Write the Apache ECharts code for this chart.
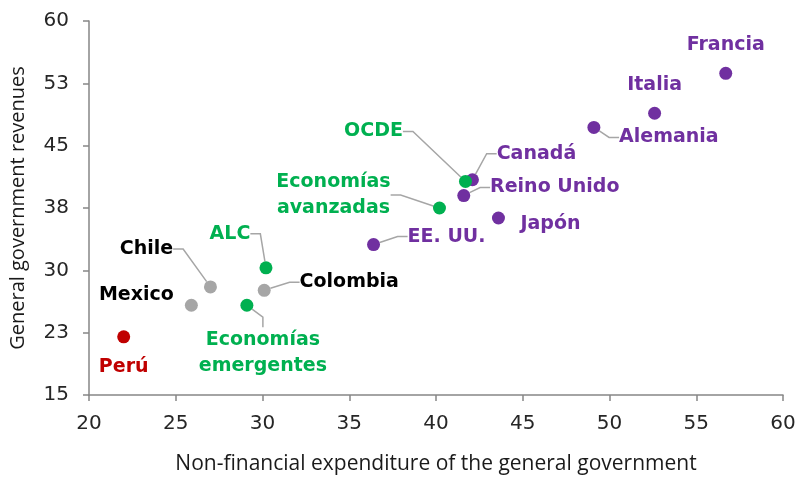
<!DOCTYPE html>
<html>
<head>
<meta charset="utf-8">
<script src="https://cdn.jsdelivr.net/npm/echarts@6/dist/echarts.min.js"></script>
<style>
  html, body { margin: 0; background: #fff; }
  #chart { width: 800px; height: 482px; }
</style>
</head>
<body>
<div id="chart"></div>
<script>
// data
const countries = ['Francia', 'Italia', 'Alemania', 'Canadá', 'Reino Unido', 'Japón', 'EE. UU.',
  'OCDE', 'Economías avanzadas', 'ALC', 'Economías emergentes',
  'Chile', 'Colombia', 'Mexico', 'Perú'];
const expenditure = [56.7, 52.6, 49.1, 42.1, 41.6, 43.6, 36.4, 41.7, 40.2, 30.2, 29.1, 27.0, 30.1, 25.9, 22.0];
const revenues = [53.7, 48.9, 47.2, 40.9, 39.0, 36.3, 33.1, 40.7, 37.5, 30.3, 25.8, 28.0, 27.6, 25.8, 22.0];
const groups = ['adv', 'adv', 'adv', 'adv', 'adv', 'adv', 'adv', 'agg', 'agg', 'agg', 'agg', 'lat', 'lat', 'lat', 'per'];

// label placement: offset from the dot (px) and whether a leader line is drawn
const labelPlace = {
  'Francia': [0, -28, false],
  'Italia': [0, -28, false],
  'Alemania': [75, 10, true],
  'Canadá': [64, -26, true],
  'Reino Unido': [91, -8, true],
  'Japón': [52, 6, false],
  'EE. UU.': [73, -8, true],
  'OCDE': [-92, -50, true],
  'Economías avanzadas': [-106, -13, true],
  'ALC': [-36, -34, true],
  'Economías emergentes': [16, 48, true],
  'Chile': [-64, -38, true],
  'Colombia': [85, -8, true],
  'Mexico': [-55, -10, false],
  'Perú': [0, 30, false]
};

const groupStyle = {
  adv: { dot: '#7030A0', text: '#7030A0' },
  agg: { dot: '#00B050', text: '#00B050' },
  lat: { dot: '#A6A6A6', text: '#000000' },
  per: { dot: '#C00000', text: '#C00000' }
};

const chart = echarts.init(document.getElementById('chart'));

const series = Object.keys(groupStyle).map(g => {
  const names = countries.filter((c, i) => groups[i] === g);
  return {
    type: 'scatter',
    symbolSize: 13,
    itemStyle: { color: groupStyle[g].dot, opacity: 1 },
    data: names.map(n => {
      const i = countries.indexOf(n);
      return {
        name: n,
        value: [expenditure[i], revenues[i]],
        labelLine: { show: labelPlace[n][2] }
      };
    }),
    label: {
      show: true,
      position: 'inside',
      color: groupStyle[g].text,
      fontFamily: 'DejaVu Sans',
      fontWeight: 'bold',
      fontSize: 19,
      lineHeight: 26,
      align: 'center',
      formatter: p => p.name.replace('Economías ', 'Economías\n')
    },
    labelLine: {
      show: false,
      length2: 10,
      lineStyle: { color: '#A6A6A6', width: 1.5 }
    },
    labelLayout: p => {
      const pl = labelPlace[names[p.dataIndex]];
      return { dx: pl[0], dy: pl[1] };
    },
    emphasis: { disabled: true }
  };
});

const option = {
  animation: false,
  grid: { left: 88, right: 17, top: 21, bottom: 87 },
  xAxis: {
    type: 'value',
    min: 20,
    max: 60,
    interval: 5,
    name: 'Non-financial expenditure of the general government',
    nameLocation: 'middle',
    nameGap: 59,
    nameTextStyle: { fontFamily: 'Open Sans', fontSize: 21, color: '#1a1a1a' },
    axisLine: { lineStyle: { color: '#868686', width: 1.5 } },
    axisTick: { show: true, length: 6, lineStyle: { color: '#868686', width: 1.5 } },
    axisLabel: { fontFamily: 'DejaVu Sans', fontSize: 20, color: '#262626', margin: 19 },
    splitLine: { show: false }
  },
  yAxis: {
    type: 'value',
    min: 15,
    max: 60,
    interval: 7.5,
    name: 'General government revenues',
    nameLocation: 'middle',
    nameGap: 61,
    nameTextStyle: { fontFamily: 'Open Sans', fontSize: 20, color: '#1a1a1a' },
    axisLine: { show: true, lineStyle: { color: '#868686', width: 1.5 } },
    axisTick: { show: true, length: 6, lineStyle: { color: '#868686', width: 1.5 } },
    axisLabel: {
      fontFamily: 'DejaVu Sans',
      fontSize: 20,
      color: '#262626',
      margin: 20,
      formatter: v => Math.round(v)
    },
    splitLine: { show: false }
  },
  series: series
};

chart.setOption(option);
</script>
</body>
</html>
